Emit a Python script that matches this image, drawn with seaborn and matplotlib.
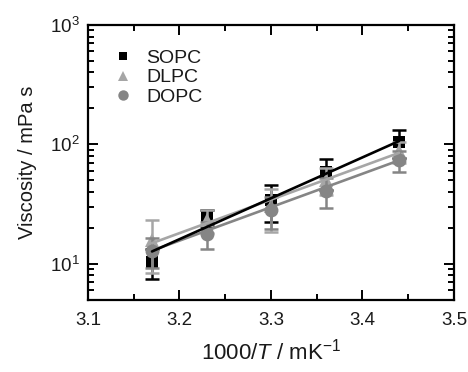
import numpy as np
import pandas as pd
import matplotlib
matplotlib.use("Agg")
import matplotlib.pyplot as plt
import seaborn as sns
from matplotlib.ticker import MultipleLocator, LogLocator
from matplotlib.lines import Line2D

# =============================================================================
# DATA
# =============================================================================
inv_T = [3.17, 3.23, 3.30, 3.36, 3.44]

sopc = [10.4, 24.7, 34.1, 58.2, 104.5]
sopc_err = [3.0, 3.8, 11.5, 17.0, 27.5]

dlpc = [15.9, 23.2, 30.6, 50.5, 87.5]
dlpc_err = [7.5, 5.0, 12.0, 13.0, 18.0]

dopc = [12.9, 17.8, 28.1, 41.0, 73.5]
dopc_err = [3.6, 4.5, 8.4, 11.4, 15.0]

# Arrhenius fit lines, end points at first and last temperature
fit_x = [3.17, 3.44]
sopc_fit = [12.7, 106.7]
dlpc_fit = [14.9, 85.0]
dopc_fit = [12.9, 73.5]

lipids = ["SOPC", "DLPC", "DOPC"]

# =============================================================================
# STYLE
# =============================================================================
sns.set_style("ticks")
plt.rcParams['font.family'] = ['Liberation Sans', 'DejaVu Sans']
plt.rcParams['mathtext.fontset'] = 'custom'
plt.rcParams['mathtext.rm'] = 'Liberation Sans'
plt.rcParams['mathtext.it'] = 'Liberation Sans:italic'

TEXT_COLOR = "#1a1a1a"
colors = {"SOPC": "#000000", "DLPC": "#a6a6a6", "DOPC": "#858585"}
markers = {"SOPC": "s", "DLPC": "^", "DOPC": "o"}
sizes = {"SOPC": 8.5, "DLPC": 9.5, "DOPC": 10}

values = {"SOPC": sopc, "DLPC": dlpc, "DOPC": dopc}
errors = {"SOPC": sopc_err, "DLPC": dlpc_err, "DOPC": dopc_err}
fits = {"SOPC": sopc_fit, "DLPC": dlpc_fit, "DOPC": dopc_fit}

df = pd.concat(
    [pd.DataFrame({"x": inv_T, "visc": values[k], "err": errors[k], "lipid": k}) for k in lipids],
    ignore_index=True,
)
fit_df = pd.concat(
    [pd.DataFrame({"x": fit_x, "visc": fits[k], "lipid": k}) for k in lipids],
    ignore_index=True,
)

# =============================================================================
# PLOT
# =============================================================================
fig = plt.figure(figsize=(4.68, 3.72), dpi=100)
ax = fig.add_axes([0.188, 0.194, 0.782, 0.739])

z = {"SOPC": 2, "DLPC": 3, "DOPC": 4}
for k in lipids:
    sub = df[df["lipid"] == k]
    ax.errorbar(sub["x"], sub["visc"], yerr=sub["err"], fmt="none",
                ecolor=colors[k], elinewidth=1.8, capsize=5, capthick=1.8, zorder=z[k])
    ax.plot(sub["x"], sub["visc"], linestyle="none", marker=markers[k],
            markersize=sizes[k], color=colors[k], markeredgewidth=0, zorder=z[k])

# fit lines (black on top)
line_z = {"SOPC": 7, "DLPC": 6, "DOPC": 5}
for k in lipids:
    sns.lineplot(data=fit_df[fit_df["lipid"] == k], x="x", y="visc", color=colors[k],
                 linewidth=1.9, ax=ax, zorder=line_z[k], legend=False)

ax.set_yscale("log")
ax.set_xlim(3.1, 3.5)
ax.set_ylim(5, 1000)

ax.xaxis.set_major_locator(MultipleLocator(0.1))
ax.xaxis.set_minor_locator(MultipleLocator(0.05))
ax.yaxis.set_major_locator(LogLocator(base=10, numticks=10))
ax.yaxis.set_minor_locator(LogLocator(base=10, subs=np.arange(2, 10), numticks=10))
ax.xaxis.set_major_formatter(matplotlib.ticker.FormatStrFormatter("%.1f"))

ax.tick_params(which="both", direction="in", top=True, right=True, width=1.4,
               labelsize=13.5, colors="black", labelcolor=TEXT_COLOR)
ax.tick_params(which="major", length=7)
ax.tick_params(which="minor", length=4)
ax.tick_params(axis="x", pad=9)
ax.tick_params(axis="y", pad=6)

for s in ax.spines.values():
    s.set_linewidth(1.6)
    s.set_color("black")

ax.set_xlabel("1000/$\\it{T}$ / mK$^{-1}$", fontsize=16, labelpad=7, color=TEXT_COLOR)
ax.set_ylabel("Viscosity / mPa s", fontsize=14.5, labelpad=9, color=TEXT_COLOR)

handles = [Line2D([], [], linestyle="none", marker=markers[k], color=colors[k],
                  markersize=sizes[k] * 0.75, markeredgewidth=0) for k in lipids]
ax.legend(handles, lipids, loc="upper left", bbox_to_anchor=(0.015, 0.975), frameon=False,
          fontsize=14, handletextpad=0.6, labelspacing=0.1, handlelength=1.2,
          labelcolor=TEXT_COLOR)

plt.savefig("out.png", dpi=100)
plt.close(fig)
